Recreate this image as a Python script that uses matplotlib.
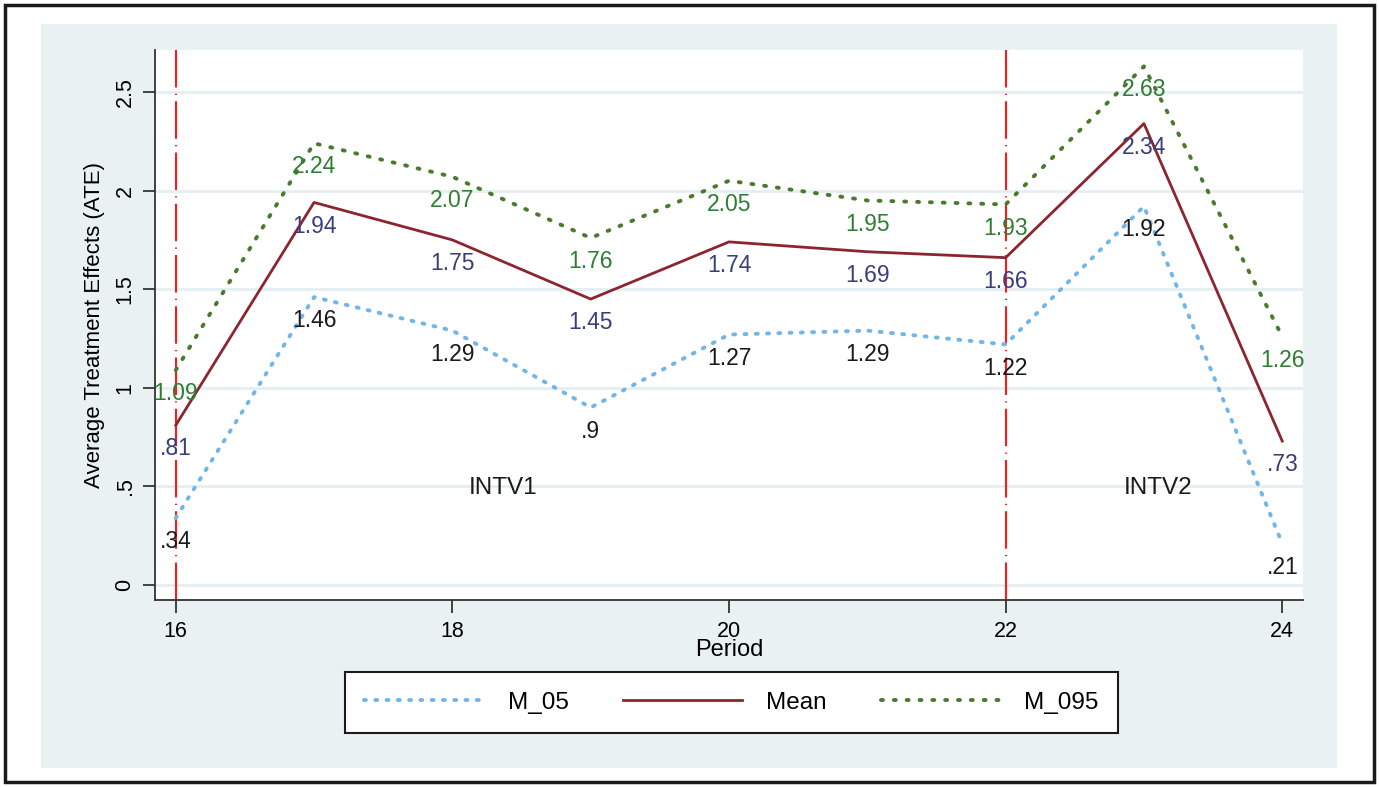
import matplotlib
matplotlib.use("Agg")
import matplotlib.pyplot as plt
from matplotlib.patches import Rectangle

periods = [16, 17, 18, 19, 20, 21, 22, 23, 24]
m_05 = [0.34, 1.46, 1.29, 0.90, 1.27, 1.29, 1.22, 1.92, 0.21]
mean = [0.81, 1.94, 1.75, 1.45, 1.74, 1.69, 1.66, 2.34, 0.73]
m_095 = [1.09, 2.24, 2.07, 1.76, 2.05, 1.95, 1.93, 2.63, 1.26]
m_05_labels = [".34", "1.46", "1.29", ".9", "1.27", "1.29", "1.22", "1.92", ".21"]
mean_labels = [".81", "1.94", "1.75", "1.45", "1.74", "1.69", "1.66", "2.34", ".73"]
m_095_labels = ["1.09", "2.24", "2.07", "1.76", "2.05", "1.95", "1.93", "2.63", "1.26"]
intervention_periods = [16, 22]
intervention_texts = ["INTV1", "INTV2"]
intervention_text_x = [18.37, 23.1]
yticks = [0, 0.5, 1, 1.5, 2, 2.5]
yticklabels = ["0", ".5", "1", "1.5", "2", "2.5"]
xticks = [16, 18, 20, 22, 24]

plt.rcParams['font.family'] = ['Liberation Sans', 'DejaVu Sans']

W, H = 1379, 787
fig = plt.figure(figsize=(W / 100, H / 100), dpi=100)
fig.patch.set_facecolor("white")

# outer black frame
fig.patches.append(Rectangle((5 / W, 5 / H), (W - 10) / W, (H - 10) / H,
                             transform=fig.transFigure, fill=False,
                             edgecolor="#1a1a1a", linewidth=2.5, zorder=-2))
# light background region
fig.patches.append(Rectangle((41 / W, (H - 768) / H), (1337 - 41) / W, (768 - 24) / H,
                             transform=fig.transFigure, facecolor="#e9f1f3",
                             edgecolor="none", zorder=-2))

ax = fig.add_axes([155 / W, (H - 600) / H, (1303 - 155) / W, (600 - 50) / H])
ax.set_zorder(1)
ax.set_facecolor("white")
ax.set_xlim(15.85, 24.15)
ax.set_ylim(-0.076, 2.713)

for s in ["top", "right"]:
    ax.spines[s].set_visible(False)
for s in ["left", "bottom"]:
    ax.spines[s].set_color("#333333")
    ax.spines[s].set_linewidth(1.3)

ax.set_yticks(yticks)
ax.set_yticklabels(yticklabels, rotation=90, va="center", fontsize=15.5)
ax.set_xticks(xticks)
ax.set_xticklabels([str(x) for x in xticks], fontsize=15.5)
ax.tick_params(axis="both", direction="out", length=9, width=1.3, color="#333333")
ax.tick_params(axis="y", pad=5)
ax.tick_params(axis="x", pad=6)
for y in yticks:
    ax.axhline(y, color="#e4eff1", linewidth=2, zorder=0)

ax.set_ylabel("Average Treatment Effects (ATE)", fontsize=16, labelpad=7)
ax.set_xlabel("Period", fontsize=17, labelpad=-2)

for xv in intervention_periods:
    ax.axvline(xv, color="#ff1a1a", linewidth=1.5, linestyle=(0, (18, 3, 0.6, 3)), zorder=1)

l1, = ax.plot(periods, m_05, color="#72b6e8", linewidth=2.8,
              linestyle=(0, (0.5, 2.4)), dash_capstyle="round", label="M_05", zorder=3)
l2, = ax.plot(periods, mean, color="#8c2530", linewidth=2.0, label="Mean", zorder=3)
l3, = ax.plot(periods, m_095, color="#4a7a2c", linewidth=2.8,
              linestyle=(0, (0.5, 2.8)), dash_capstyle="round", label="M_095", zorder=3)

for vals, labs, col in [(m_05, m_05_labels, "#1a1a1a"),
                        (mean, mean_labels, "#3a3d7c"),
                        (m_095, m_095_labels, "#2f7d32")]:
    for xv, yv, lab in zip(periods, vals, labs):
        ax.annotate(lab, (xv, yv), xytext=(0, -17), textcoords="offset points",
                    ha="center", va="center", fontsize=16.5, color=col, zorder=4)

for tx, txt in zip(intervention_text_x, intervention_texts):
    ax.text(tx, 0.49, txt, ha="center", va="center", fontsize=17.5, color="#1a1a1a")

leg = fig.legend(handles=[l1, l2, l3], labels=["M_05", "Mean", "M_095"],
                 loc="lower left",
                 bbox_to_anchor=(345 / W, (H - 733) / H, (1118 - 345) / W, (733 - 674) / H),
                 mode="expand", ncol=3, fontsize=17.5, frameon=True, fancybox=False,
                 framealpha=1, facecolor="white",
                 handlelength=4.9, handletextpad=1.0, borderaxespad=0, borderpad=0.8)
leg.get_frame().set_edgecolor("#1a1a1a")
leg.get_frame().set_linewidth(1.5)

fig.savefig("out.png", dpi=100, facecolor="white")
